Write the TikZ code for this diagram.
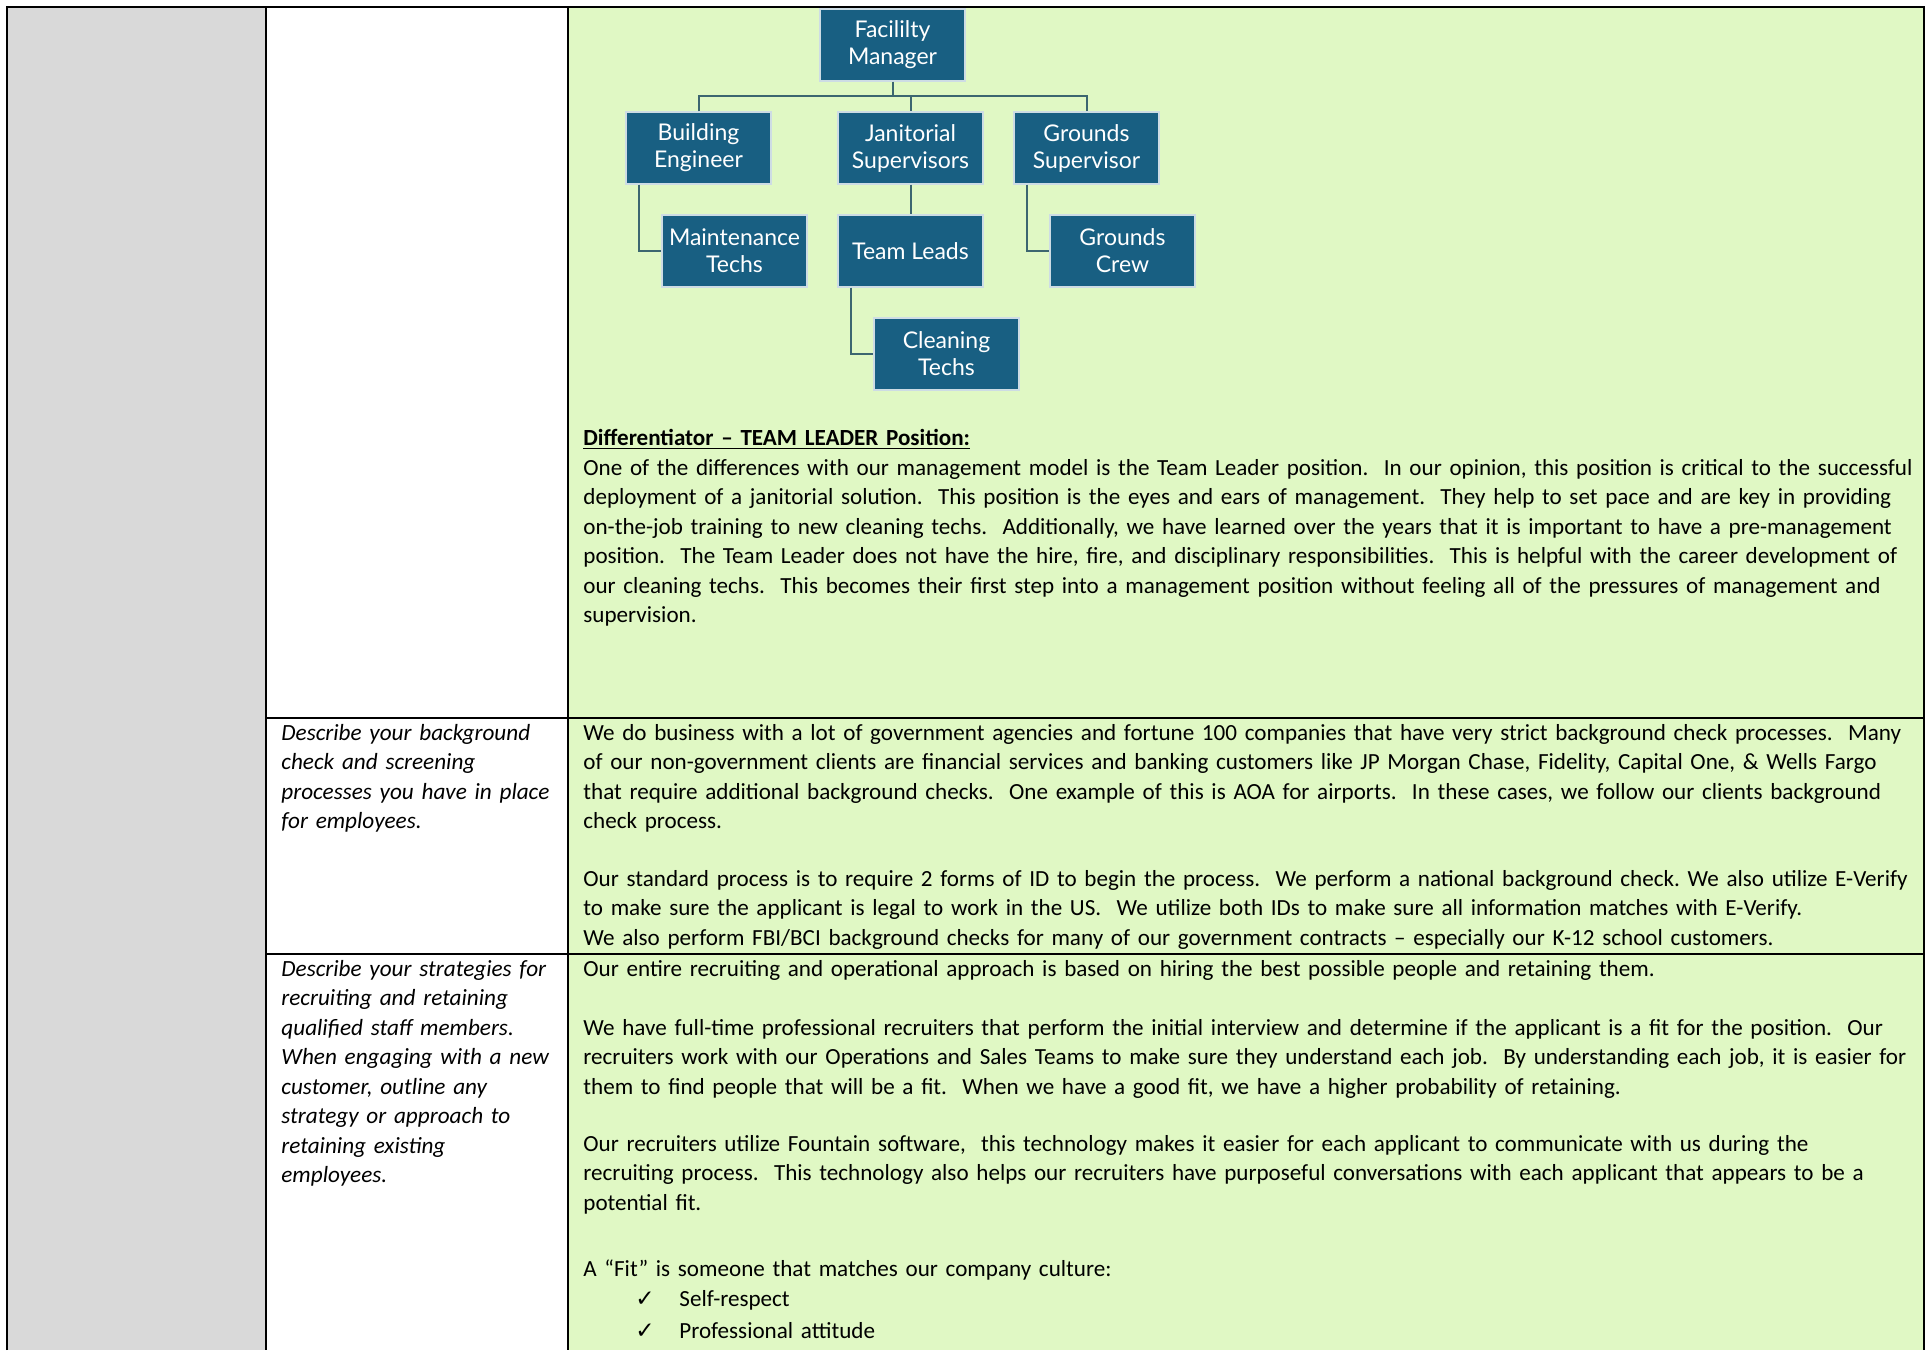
\documentclass[tikz,border=0pt]{standalone}
\usepackage{fontspec}
\setmainfont{Carlito}
\newfontfamily\chartfont{Lato}
\newfontfamily\symfont{DejaVu Sans}
\definecolor{graycol}{RGB}{217,217,217}
\definecolor{greencell}{RGB}{224,248,196}
\definecolor{orgblue}{RGB}{24,95,130}
\definecolor{orgedge}{RGB}{205,220,228}
\definecolor{orgwire}{RGB}{60,102,112}
\frenchspacing
\begin{document}
\begin{tikzpicture}[x=0.5pt,y=-0.5pt,
    gridline/.style={line width=1.2pt,black},
    orgbox/.style={fill=orgblue,draw=orgedge,line width=0.6pt,text=white,
        minimum width=72.5pt,minimum height=36pt,inner sep=1pt,align=center,
        font=\chartfont\fontsize{11.5}{13.5}\selectfont},
    orgline/.style={draw=orgwire,line width=1pt},
    bodytext/.style={anchor=base west,inner sep=0pt,text width=800pt,align=left,
        font=\fontsize{11.55}{14.75}\selectfont},
    asktext/.style={bodytext,text width=160pt,font=\itshape\fontsize{11.6}{14.75}\selectfont}]
    \useasboundingbox (0,0) rectangle (1925,1350);
    % table cells
    \fill[graycol] (7,7) rectangle (266,1350);
    \fill[white] (266,7) rectangle (568,1350);
    \fill[greencell] (568,7) rectangle (1924,1350);
    \draw[gridline] (7,1350) -- (7,7) -- (1924,7) -- (1924,1350);
    \draw[gridline] (266,7) -- (266,1350);
    \draw[gridline] (568,7) -- (568,1350);
    \draw[gridline] (266,718) -- (1924,718);
    \draw[gridline] (266,954) -- (1924,954);
    % org chart
    \node[orgbox] (fm) at (892.5,45) {Facililty\\Manager};
    \node[orgbox] (be) at (698.5,148) {Building\\Engineer};
    \node[orgbox] (js) at (910.5,148) {Janitorial\\Supervisors};
    \node[orgbox] (gs) at (1086.5,148) {Grounds\\Supervisor};
    \node[orgbox] (mt) at (734.5,251) {Maintenance\\Techs};
    \node[orgbox] (tl) at (910.5,251) {Team Leads};
    \node[orgbox] (gc) at (1122.5,251) {Grounds\\Crew};
    \node[orgbox] (ct) at (946.5,354) {Cleaning\\Techs};
    \coordinate (bus) at (892.5,96);
    \draw[orgline] (fm.south) -- (bus);
    \draw[orgline] (be.north) |- (bus) -| (gs.north);
    \draw[orgline] (bus -| js.north) -- (js.north);
    \draw[orgline] (js.south) -- (tl.north);
    \draw[orgline] ([xshift=7pt]be.south west) |- (mt.west);
    \draw[orgline] ([xshift=7pt]tl.south west) |- (ct.west);
    \draw[orgline] ([xshift=7pt]gs.south west) |- (gc.west);
    % row 1 text
    \node[bodytext] (diffhead) at (583,445) {\textbf{\underline{Differentiator – TEAM LEADER Position:}}};
    \node[bodytext] (diffpara) at (583,475) {One of the differences with our management model is the Team Leader position.~ In our opinion, this position is critical to the successful\\
        deployment of a janitorial solution.~ This position is the eyes and ears of management.~ They help to set pace and are key in providing\\
        on-the-job training to new cleaning techs.~ Additionally, we have learned over the years that it is important to have a pre-management\\
        position.~ The Team Leader does not have the hire, fire, and disciplinary responsibilities.~ This is helpful with the career development of\\
        our cleaning techs.~ This becomes their first step into a management position without feeling all of the pressures of management and\\
        supervision.};
    % row 2 text
    \node[asktext] (checkask) at (281,740) {Describe your background\\check and screening\\processes you have in place\\for employees.};
    \node[bodytext] (checkpara) at (583,740) {We do business with a lot of government agencies and fortune 100 companies that have very strict background check processes.~ Many\\
        of our non-government clients are financial services and banking customers like JP Morgan Chase, Fidelity, Capital One, \& Wells Fargo\\
        that require additional background checks.~ One example of this is AOA for airports.~ In these cases, we follow our clients background\\
        check process.};
    \node[bodytext] (idpara) at (583,886) {Our standard process is to require 2 forms of ID to begin the process.~ We perform a national background check. We also utilize E-Verify\\
        to make sure the applicant is legal to work in the US.~ We utilize both IDs to make sure all information matches with E-Verify.\\
        We also perform FBI/BCI background checks for many of our government contracts – especially our K-12 school customers.};
    % row 3 text
    \node[asktext] (recruitask) at (281,976) {Describe your strategies for\\recruiting and retaining\\qualified staff members.\\When engaging with a new\\customer, outline any\\strategy or approach to\\retaining existing\\employees.};
    \node[bodytext] (approachpara) at (583,976) {Our entire recruiting and operational approach is based on hiring the best possible people and retaining them.};
    \node[bodytext] (recruitpara) at (583,1035) {We have full-time professional recruiters that perform the initial interview and determine if the applicant is a fit for the position.~ Our\\
        recruiters work with our Operations and Sales Teams to make sure they understand each job.~ By understanding each job, it is easier for\\
        them to find people that will be a fit.~ When we have a good fit, we have a higher probability of retaining.};
    \node[bodytext] (fountainpara) at (583,1151) {Our recruiters utilize Fountain software,~ this technology makes it easier for each applicant to communicate with us during the\\
        recruiting process.~ This technology also helps our recruiters have purposeful conversations with each applicant that appears to be a\\
        potential fit.};
    \node[bodytext] (fitpara) at (583,1276) {A “Fit” is someone that matches our company culture:};
    \node[bodytext] (fitlist) at (635,1306) {\makebox[22pt][l]{\symfont ✓}Self-respect\\[1.5pt]
        \makebox[22pt][l]{\symfont ✓}Professional attitude};
\end{tikzpicture}
\end{document}
